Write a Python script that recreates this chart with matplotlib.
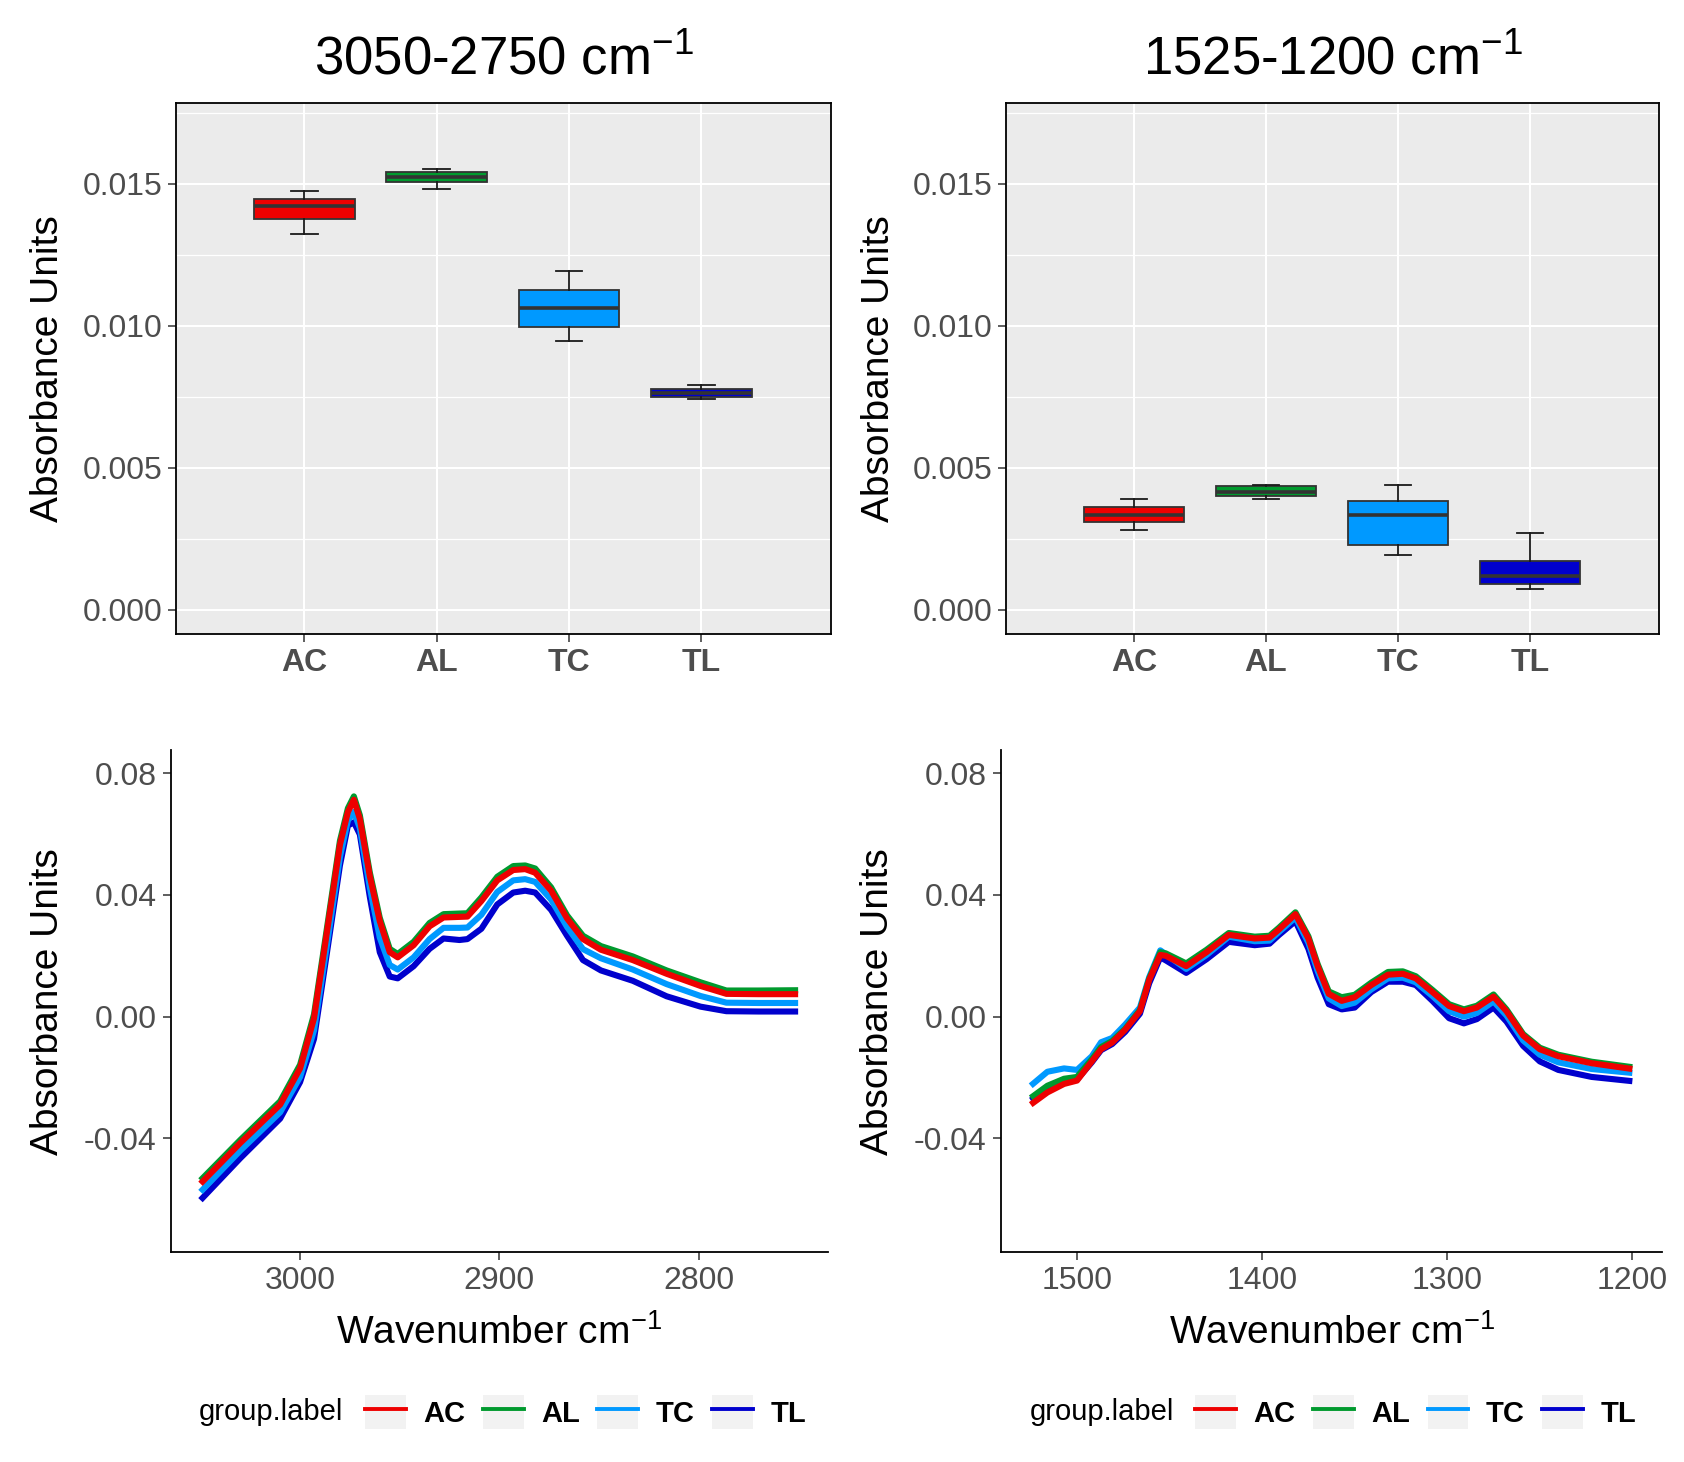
import matplotlib
matplotlib.use("Agg")
import matplotlib.pyplot as plt
from matplotlib.patches import Patch
from matplotlib.lines import Line2D
from matplotlib.legend_handler import HandlerTuple

plt.rcParams['font.family'] = ['Liberation Sans', 'DejaVu Sans']
plt.rcParams['mathtext.fontset'] = 'custom'
plt.rcParams['mathtext.rm'] = 'Liberation Sans'
plt.rcParams['mathtext.it'] = 'Liberation Sans:italic'
plt.rcParams['mathtext.bf'] = 'Liberation Sans:bold'

# data
groups = ['AC', 'AL', 'TC', 'TL']
group_colors = ['#EE0000', '#009A2E', '#0099FF', '#0000CD']

# boxplots, 3050-2750 region (whisker low, q1, median, q3, whisker high)
ch_low = [0.01322, 0.01480, 0.00947, 0.00741]
ch_q1 = [0.01374, 0.01505, 0.00994, 0.00748]
ch_med = [0.01420, 0.01524, 0.01062, 0.00763]
ch_q3 = [0.01447, 0.01540, 0.01126, 0.00778]
ch_high = [0.01473, 0.01553, 0.01192, 0.00791]

# boxplots, 1525-1200 region
fp_low = [0.00282, 0.00388, 0.00191, 0.00074]
fp_q1 = [0.00308, 0.00399, 0.00229, 0.00091]
fp_med = [0.00334, 0.00415, 0.00333, 0.00118]
fp_q3 = [0.00361, 0.00434, 0.00382, 0.00170]
fp_high = [0.00388, 0.00440, 0.00440, 0.00270]

# spectra, 3050-2750 cm-1
wn_ch = [3050, 3030, 3010, 3000, 2993, 2987, 2980, 2976, 2973, 2970, 2965, 2960,
         2955, 2951, 2943, 2935, 2928, 2920, 2916, 2909, 2901, 2893, 2887, 2882,
         2874, 2866, 2858, 2849, 2833, 2816, 2799, 2786, 2770, 2750]
ch_AC = [-0.0549, -0.0415, -0.0289, -0.0170, -0.0005, 0.0257, 0.0565, 0.0673, 0.0713,
         0.0650, 0.0462, 0.0314, 0.0212, 0.0195, 0.0235, 0.0297, 0.0326, 0.0328,
         0.0329, 0.0380, 0.0448, 0.0482, 0.0485, 0.0473, 0.0414, 0.0323, 0.0255,
         0.0220, 0.0186, 0.0141, 0.0101, 0.0075, 0.0074, 0.0074]
ch_AL = [-0.0538, -0.0405, -0.0278, -0.0158, 0.0008, 0.0270, 0.0578, 0.0685, 0.0724,
         0.0662, 0.0474, 0.0325, 0.0223, 0.0206, 0.0246, 0.0308, 0.0337, 0.0339,
         0.0340, 0.0392, 0.0460, 0.0495, 0.0497, 0.0487, 0.0425, 0.0333, 0.0266,
         0.0232, 0.0198, 0.0152, 0.0113, 0.0086, 0.0086, 0.0087]
ch_TC = [-0.0576, -0.0440, -0.0314, -0.0198, -0.0045, 0.0215, 0.0525, 0.0645, 0.0673,
         0.0620, 0.0425, 0.0260, 0.0170, 0.0155, 0.0195, 0.0255, 0.0292, 0.0292,
         0.0293, 0.0335, 0.0410, 0.0448, 0.0452, 0.0443, 0.0385, 0.0295, 0.0222,
         0.0192, 0.0155, 0.0107, 0.0068, 0.0046, 0.0045, 0.0045]
ch_TL = [-0.0603, -0.0465, -0.0335, -0.0215, -0.0073, 0.0189, 0.0497, 0.0628, 0.0639,
         0.0599, 0.0394, 0.0212, 0.0132, 0.0126, 0.0166, 0.0223, 0.0257, 0.0252,
         0.0255, 0.0289, 0.0369, 0.0408, 0.0414, 0.0408, 0.0351, 0.0266, 0.0186,
         0.0152, 0.0118, 0.0067, 0.0033, 0.0018, 0.0017, 0.0017]

# spectra, 1525-1200 cm-1
wn_fp = [1525, 1516, 1507, 1500, 1492, 1487, 1481, 1474, 1466, 1461, 1455, 1452,
         1441, 1430, 1418, 1404, 1396, 1391, 1382, 1375, 1370, 1364, 1357, 1350,
         1341, 1332, 1324, 1317, 1308, 1299, 1291, 1284, 1275, 1268, 1259, 1250,
         1240, 1222, 1200]
fp_AC = [-0.0289, -0.0249, -0.0221, -0.0210, -0.0147, -0.0107, -0.0085, -0.0043, 0.0018,
         0.0121, 0.0203, 0.0200, 0.0166, 0.0212, 0.0269, 0.0257, 0.0260, 0.0286,
         0.0337, 0.0257, 0.0166, 0.0075, 0.0052, 0.0064, 0.0104, 0.0138, 0.0141,
         0.0126, 0.0081, 0.0035, 0.0018, 0.0030, 0.0066, 0.0018, -0.0062, -0.0107,
         -0.0130, -0.0153, -0.0172]
fp_AL = [-0.0267, -0.0227, -0.0204, -0.0198, -0.0140, -0.0100, -0.0080, -0.0040, 0.0022,
         0.0125, 0.0212, 0.0208, 0.0175, 0.0220, 0.0275, 0.0263, 0.0266, 0.0292,
         0.0343, 0.0264, 0.0173, 0.0083, 0.0064, 0.0072, 0.0112, 0.0147, 0.0149,
         0.0133, 0.0088, 0.0041, 0.0024, 0.0036, 0.0073, 0.0024, -0.0057, -0.0102,
         -0.0125, -0.0148, -0.0166]
fp_TC = [-0.0227, -0.0181, -0.0170, -0.0175, -0.0130, -0.0084, -0.0070, -0.0026, 0.0030,
         0.0130, 0.0218, 0.0205, 0.0157, 0.0203, 0.0263, 0.0248, 0.0250, 0.0278,
         0.0326, 0.0243, 0.0150, 0.0060, 0.0035, 0.0046, 0.0090, 0.0126, 0.0128,
         0.0113, 0.0068, 0.0018, 0.0000, 0.0012, 0.0050, 0.0004, -0.0078, -0.0125,
         -0.0150, -0.0172, -0.0185]
fp_TL = [-0.0275, -0.0240, -0.0215, -0.0207, -0.0150, -0.0110, -0.0090, -0.0050, 0.0010,
         0.0110, 0.0195, 0.0185, 0.0144, 0.0189, 0.0246, 0.0235, 0.0240, 0.0268,
         0.0314, 0.0223, 0.0128, 0.0041, 0.0024, 0.0030, 0.0081, 0.0115, 0.0115,
         0.0104, 0.0052, -0.0005, -0.0022, -0.0008, 0.0030, -0.0016, -0.0096, -0.0147,
         -0.0175, -0.0198, -0.0212]

box_ticks = [0.0, 0.005, 0.010, 0.015]
box_minor = [0.0025, 0.0075, 0.0125, 0.0175]
spec_ticks = [-0.04, 0.0, 0.04, 0.08]
spec_ticklabels = ['-0.04', '0.00', '0.04', '0.08']

TICK_GREY = '#4D4D4D'
DARK = '#333333'


def draw_box(ax, low, q1, med, q3, high, title):
    stats = []
    for i in range(len(groups)):
        stats.append(dict(whislo=low[i], q1=q1[i], med=med[i], q3=q3[i],
                          whishi=high[i], fliers=[]))
    bp = ax.bxp(stats, positions=[1, 2, 3, 4], widths=0.76, patch_artist=True,
                showfliers=False, capwidths=0.2,
                boxprops=dict(edgecolor=DARK, linewidth=1.3),
                medianprops=dict(color=DARK, linewidth=2.6),
                whiskerprops=dict(color='#1A1A1A', linewidth=1.3),
                capprops=dict(color='#1A1A1A', linewidth=1.3))
    for patch, c in zip(bp['boxes'], group_colors):
        patch.set_facecolor(c)

    ax.set_facecolor('#EBEBEB')
    ax.set_axisbelow(True)
    ax.set_xlim(0.03, 4.98)
    ax.set_ylim(-0.00085, 0.01785)
    ax.set_yticks(box_ticks)
    ax.set_yticklabels(['%.3f' % v for v in box_ticks])
    ax.set_yticks(box_minor, minor=True)
    ax.set_xticks([1, 2, 3, 4])
    ax.set_xticklabels(groups, fontweight='bold')
    ax.grid(which='major', color='white', linewidth=1.5)
    ax.grid(which='minor', axis='y', color='white', linewidth=0.9)
    ax.tick_params(which='minor', length=0)
    ax.tick_params(which='major', length=6, width=1.1, color=DARK, pad=4)
    ax.tick_params(axis='y', labelsize=23, labelcolor=TICK_GREY)
    ax.tick_params(axis='x', labelsize=23, labelcolor=TICK_GREY)
    for s in ax.spines.values():
        s.set_color('black')
        s.set_linewidth(1.3)
    ax.set_ylabel('Absorbance Units', fontsize=28)
    ax.yaxis.label.set_va('center')
    ax.yaxis.set_label_coords(-0.195, 0.5)
    ax.set_title(title, fontsize=38, pad=20)


def draw_spec(ax, wn, series, xlim, xticks):
    # TL first so red ends on top, as in the reference
    for vals, c in reversed(list(zip(series, group_colors))):
        ax.plot(wn, vals, color=c, linewidth=4.4, solid_capstyle='butt',
                solid_joinstyle='round')
    ax.set_xlim(*xlim)
    ax.set_ylim(-0.0775, 0.0875)
    ax.set_yticks(spec_ticks)
    ax.set_yticklabels(spec_ticklabels)
    ax.set_xticks(xticks)
    ax.spines['top'].set_visible(False)
    ax.spines['right'].set_visible(False)
    for s in ['left', 'bottom']:
        ax.spines[s].set_color('black')
        ax.spines[s].set_linewidth(1.3)
    ax.tick_params(length=6, width=1.1, color=DARK, pad=4, labelsize=23,
                   labelcolor=TICK_GREY)
    ax.set_ylabel('Absorbance Units', fontsize=28)
    ax.yaxis.label.set_va('center')
    ax.yaxis.set_label_coords(-0.186, 0.5)
    ax.set_xlabel(r'Wavenumber cm$^{-1}$', fontsize=28)
    ax.xaxis.label.set_va('center')
    ax.xaxis.set_label_coords(0.5, -0.16)


def add_legend(fig, x_title, x_keys, y):
    fig.text(x_title, y, 'group.label', fontsize=21, ha='left', va='center')
    handles = [(Patch(facecolor='#F2F2F2', edgecolor='none'),
                Line2D([], [], color=c, linewidth=2.8)) for c in group_colors]
    fig.legend(handles, groups, loc='center left', bbox_to_anchor=(x_keys, y),
               ncol=4, frameon=False, prop=dict(size=21, weight='bold'),
               handlelength=1.4, handleheight=1.4, handletextpad=0.6,
               columnspacing=0.6, borderpad=0, borderaxespad=0,
               handler_map={tuple: HandlerTuple(ndivide=1, pad=0)})


fig = plt.figure(figsize=(16.84, 14.62), dpi=100)

ax1 = fig.add_axes([0.1045, 0.5665, 0.389, 0.3633])
ax2 = fig.add_axes([0.5974, 0.5665, 0.3879, 0.3633])
ax3 = fig.add_axes([0.1013, 0.1433, 0.3904, 0.3434])
ax4 = fig.add_axes([0.5942, 0.1433, 0.3930, 0.3434])

draw_box(ax1, ch_low, ch_q1, ch_med, ch_q3, ch_high, r'3050-2750 cm$^{-1}$')
draw_box(ax2, fp_low, fp_q1, fp_med, fp_q3, fp_high, r'1525-1200 cm$^{-1}$')

draw_spec(ax3, wn_ch, [ch_AC, ch_AL, ch_TC, ch_TL], (3065, 2735), [3000, 2900, 2800])
draw_spec(ax4, wn_fp, [fp_AC, fp_AL, fp_TC, fp_TL], (1541.25, 1183.75),
          [1500, 1400, 1300, 1200])

add_legend(fig, 0.118, 0.2167, 0.034)
add_legend(fig, 0.6115, 0.7096, 0.034)

fig.savefig('out.png', dpi=100, facecolor='white')
